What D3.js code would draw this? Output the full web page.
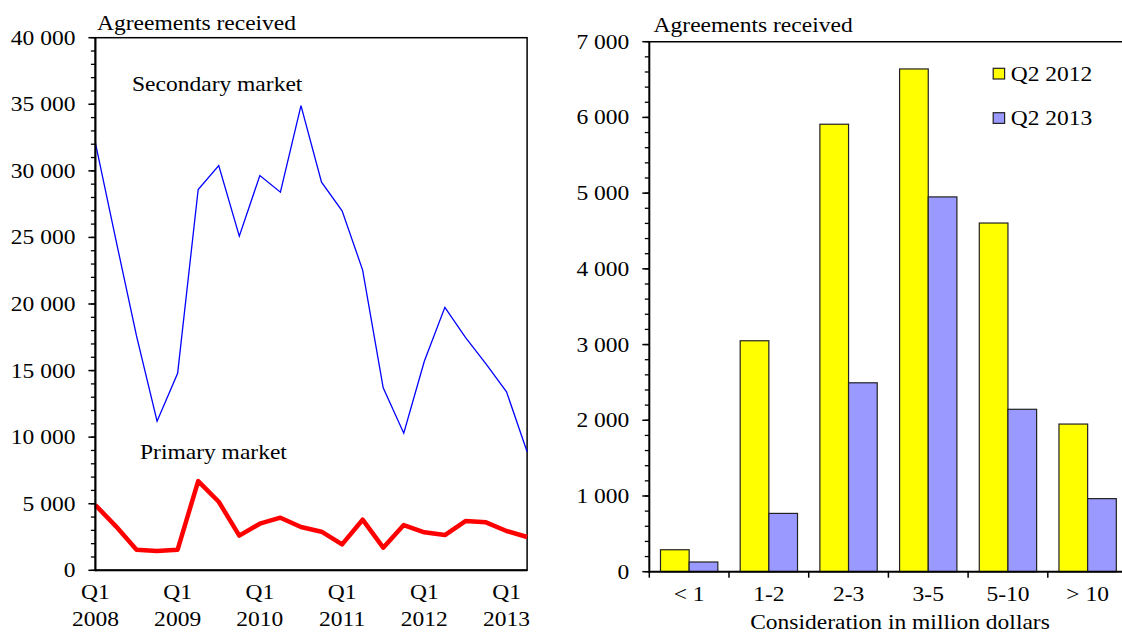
<!DOCTYPE html>
<html>
<head>
<meta charset="utf-8">
<script src="https://cdn.jsdelivr.net/npm/d3@7"></script>
<style>
  body { margin: 0; background: #fff; }
  svg text { font-family: "Liberation Serif", "Times New Roman", serif; font-size: 21px; fill: #000; }
</style>
</head>
<body>
<svg id="chart" width="1122" height="634"></svg>
<script>
// left panel: agreements received per quarter
const quarters = [
  'Q1 2008', 'Q2 2008', 'Q3 2008', 'Q4 2008',
  'Q1 2009', 'Q2 2009', 'Q3 2009', 'Q4 2009',
  'Q1 2010', 'Q2 2010', 'Q3 2010', 'Q4 2010',
  'Q1 2011', 'Q2 2011', 'Q3 2011', 'Q4 2011',
  'Q1 2012', 'Q2 2012', 'Q3 2012', 'Q4 2012',
  'Q1 2013', 'Q2 2013'
]
const secondary = [32100, 24800, 17600, 11200, 14800, 28600, 30400, 25100, 29650, 28400,
  34900, 29150, 27000, 22550, 13700, 10300, 15700, 19750, 17500, 15500, 13400, 8900]
const primary = [4900, 3300, 1550, 1450, 1550, 6700, 5150, 2600, 3500, 3950,
  3250, 2900, 1950, 3800, 1700, 3400, 2850, 2650, 3700, 3600, 2950, 2500]
const leftTicks = [0, 5000, 10000, 15000, 20000, 25000, 30000, 35000, 40000]

// right panel: agreements by consideration size
const sizeClasses = ['< 1', '1-2', '2-3', '3-5', '5-10', '> 10']
const seriesNames = ['Q2 2012', 'Q2 2013']
const q2012 = [290, 3050, 5910, 6640, 4605, 1950]
const q2013 = [128, 770, 2495, 4950, 2145, 965]
const rightTicks = [0, 1000, 2000, 3000, 4000, 5000, 6000, 7000]

const svg = d3.select('#chart')
const sx = 1.12 // the source is stretched horizontally
const fmt = d => d3.format(',')(d).replace(/,/g, ' ')

function label(x, y, str, anchor) {
  svg.append('text')
    .attr('transform', `translate(${x},${y}) scale(${sx},1)`)
    .attr('text-anchor', anchor || 'start')
    .text(str)
}

function yAxis(scale, x, major, minorStep) {
  const [lo, hi] = scale.domain()
  const g = svg.append('g')
  g.selectAll('line.minor')
    .data(d3.range(lo, hi + 1, minorStep))
    .join('line')
    .attr('x1', x - 4.5).attr('x2', x)
    .attr('y1', d => scale(d)).attr('y2', d => scale(d))
    .attr('stroke', '#000').attr('stroke-width', 1.3)
  g.selectAll('line.major')
    .data(major)
    .join('line')
    .attr('x1', x - 7).attr('x2', x)
    .attr('y1', d => scale(d)).attr('y2', d => scale(d))
    .attr('stroke', '#000').attr('stroke-width', 1.5)
  major.forEach(d => label(x - 20, scale(d) + 7, fmt(d), 'end'))
  g.append('line')
    .attr('x1', x).attr('x2', x)
    .attr('y1', scale(hi) - 0.5).attr('y2', scale(lo) + 1)
    .attr('stroke', '#000').attr('stroke-width', 2)
}

// ---------- left panel ----------
const lx = d3.scalePoint().domain(quarters).range([95.4, 527.1])
const ly = d3.scaleLinear().domain([0, 40000]).range([570.3, 37.7])

svg.append('rect')
  .attr('x', lx.range()[0]).attr('y', ly(40000))
  .attr('width', lx.range()[1] - lx.range()[0])
  .attr('height', ly(0) - ly(40000))
  .attr('fill', 'none').attr('stroke', '#000').attr('stroke-width', 1.5)

const line = values => d3.line()
  .x((d, i) => lx(quarters[i]))
  .y(d => ly(d))(values)

svg.append('path')
  .attr('d', line(secondary))
  .attr('fill', 'none').attr('stroke', '#0000ff').attr('stroke-width', 1.3)

svg.append('path')
  .attr('d', line(primary))
  .attr('fill', 'none').attr('stroke', '#ff0000').attr('stroke-width', 4.5)
  .attr('stroke-linejoin', 'round')

yAxis(ly, lx.range()[0], leftTicks, 1000)

svg.append('line')
  .attr('x1', lx.range()[0]).attr('x2', lx.range()[1])
  .attr('y1', ly(0)).attr('y2', ly(0))
  .attr('stroke', '#000').attr('stroke-width', 2)

quarters.filter(q => q.startsWith('Q1')).forEach(q => {
  const [qq, yr] = q.split(' ')
  label(lx(q), ly(0) + 29, qq, 'middle')
  label(lx(q), ly(0) + 56, yr, 'middle')
})

label(97, 30, 'Agreements received')
label(132, 91, 'Secondary market')
label(140, 459, 'Primary market')

// ---------- right panel ----------
const rx0 = d3.scaleBand().domain(sizeClasses).range([649.3, 1127.5])
const rx1 = d3.scaleBand().domain(seriesNames).range([0, rx0.bandwidth()]).paddingOuter(0.39)
const ry = d3.scaleLinear().domain([0, 7000]).range([571.7, 41.7])
const colors = { 'Q2 2012': '#ffff00', 'Q2 2013': '#9999ff' }

svg.append('line')
  .attr('x1', rx0.range()[0]).attr('x2', 1122)
  .attr('y1', ry(7000)).attr('y2', ry(7000))
  .attr('stroke', '#000').attr('stroke-width', 1.5)

const rows = sizeClasses.map((c, i) => ({ c, vals: [
  { s: seriesNames[0], v: q2012[i] },
  { s: seriesNames[1], v: q2013[i] }
] }))

svg.append('g')
  .selectAll('g')
  .data(rows)
  .join('g')
  .attr('transform', d => `translate(${rx0(d.c)},0)`)
  .selectAll('rect')
  .data(d => d.vals)
  .join('rect')
  .attr('x', d => rx1(d.s))
  .attr('y', d => ry(d.v))
  .attr('width', rx1.bandwidth())
  .attr('height', d => ry(0) - ry(d.v))
  .attr('fill', d => colors[d.s])
  .attr('stroke', '#222').attr('stroke-width', 1.2)

yAxis(ry, rx0.range()[0], rightTicks, 200)

svg.append('line')
  .attr('x1', rx0.range()[0]).attr('x2', 1122)
  .attr('y1', ry(0)).attr('y2', ry(0))
  .attr('stroke', '#000').attr('stroke-width', 2)

svg.append('g')
  .selectAll('line')
  .data(sizeClasses.map(c => rx0(c)))
  .join('line')
  .attr('x1', d => d).attr('x2', d => d)
  .attr('y1', ry(0)).attr('y2', ry(0) + 6)
  .attr('stroke', '#000').attr('stroke-width', 1.5)

sizeClasses.forEach(c => label(rx0(c) + rx0.bandwidth() / 2, 601, c, 'middle'))
label(900, 629, 'Consideration in million dollars', 'middle')
label(653.6, 32, 'Agreements received')

// legend
seriesNames.forEach((s, i) => {
  const y = 68.3 + i * 44.4
  svg.append('rect')
    .attr('x', 993.2).attr('y', y)
    .attr('width', 11.4).attr('height', 10.7)
    .attr('fill', colors[s]).attr('stroke', '#222').attr('stroke-width', 1.2)
  label(1010.7, y + 12.7, s)
})
</script>
</body>
</html>
